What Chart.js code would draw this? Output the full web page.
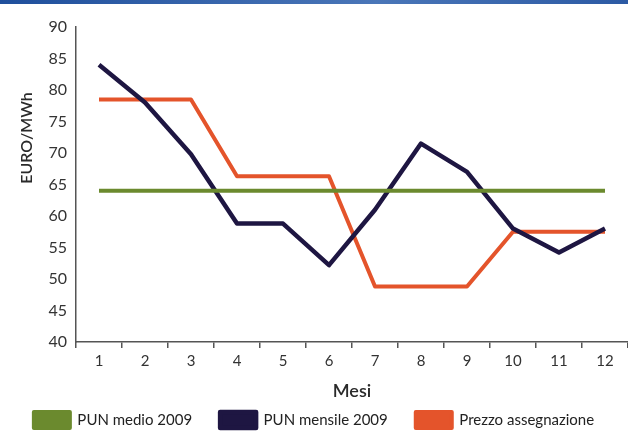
<!DOCTYPE html>
<html>
<head>
<meta charset="utf-8">
<script src="https://cdn.jsdelivr.net/npm/chart.js@4.4.1/dist/chart.umd.min.js"></script>
<style>
  body { margin: 0; background: #fff; }
  .wrap { position: relative; width: 628px; height: 438px; }
  .topbar { position: absolute; left: 0; top: 0; width: 628px; height: 4px;
            background: linear-gradient(to right, #1f4f9c, #4a76b8 60%, #2c5aa4); }
</style>
</head>
<body>
<div class="wrap">
  <div class="topbar"></div>
  <canvas id="grafico"></canvas>
</div>
<script>
// mesi e valori (EURO/MWh)
const mesi = ['1', '2', '3', '4', '5', '6', '7', '8', '9', '10', '11', '12'];
const punMedio = [64, 64, 64, 64, 64, 64, 64, 64, 64, 64, 64, 64];
const punMensile = [84, 78, 69.8, 58.8, 58.8, 52.2, 61, 71.5, 67, 58, 54.2, 58];
const prezzoAssegnazione = [78.5, 78.5, 78.5, 66.3, 66.3, 66.3, 48.8, 48.8, 48.8, 57.5, 57.5, 57.5];
const yMin = 40, yMax = 90, yStep = 5;

const fontName = 'Lato, "Open Sans", sans-serif';

// titolo asse Y disegnato a mano (non centrato sull'asse nell'originale)
const titoloY = {
  id: 'titoloY',
  afterDraw(chart) {
    const ctx = chart.ctx;
    ctx.save();
    ctx.translate(27, 138);
    ctx.rotate(-Math.PI / 2);
    ctx.font = '600 16px ' + fontName;
    ctx.fillStyle = '#2a2a2a';
    ctx.textAlign = 'center';
    ctx.textBaseline = 'middle';
    ctx.fillText('EURO/MWh', 0, 0);
    ctx.restore();
  }
};

const ctx = document.getElementById('grafico').getContext('2d');
new Chart(ctx, {
  type: 'line',
  data: {
    labels: mesi,
    datasets: [
      {
        label: 'PUN medio 2009',
        data: punMedio,
        borderColor: '#6b8a2e',
        backgroundColor: '#6b8a2e',
        borderWidth: 4,
        pointRadius: 0,
      },
      {
        label: 'PUN mensile 2009',
        data: punMensile,
        borderColor: '#1e1642',
        backgroundColor: '#1e1642',
        borderWidth: 4.5,
        pointRadius: 0,
      },
      {
        label: 'Prezzo assegnazione',
        data: prezzoAssegnazione,
        borderColor: '#e4542b',
        backgroundColor: '#e4542b',
        borderWidth: 4,
        pointRadius: 0,
      },
    ],
  },
  options: {
    responsive: true,
    maintainAspectRatio: false,
    animation: false,
    layout: { padding: { top: 27, right: 0, left: 0, bottom: 0 } },
    elements: { line: { tension: 0, borderJoinStyle: 'round', borderCapStyle: 'butt' } },
    plugins: {
      tooltip: { enabled: false },
      legend: {
        position: 'bottom',
        labels: {
          boxWidth: 36,
          boxHeight: 16,
          padding: 28,
          color: '#222',
          font: { family: fontName, size: 15 },
        },
      },
    },
    scales: {
      x: {
        offset: true,
        grid: { display: true, drawOnChartArea: false, offset: true, tickLength: 6, color: '#555', lineWidth: 1.5 },
        border: { color: '#555', width: 1.5 },
        ticks: { color: '#333', font: { family: fontName, size: 15 }, padding: 4, maxRotation: 0 },
        title: { display: true, text: 'Mesi', color: '#2a2a2a', font: { family: fontName, size: 18, weight: '600' }, padding: { top: 0, bottom: -18 } },
        afterFit: (scale) => { scale.height = 42; },
      },
      y: {
        min: yMin,
        max: yMax,
        grid: { display: false, drawTicks: false },
        border: { color: '#555', width: 1.5 },
        ticks: { stepSize: yStep, color: '#333', font: { family: fontName, size: 16 }, padding: 9 },
        afterFit: (scale) => { scale.width = 76; },
      },
    },
  },
  plugins: [titoloY],
});
</script>
</body>
</html>
